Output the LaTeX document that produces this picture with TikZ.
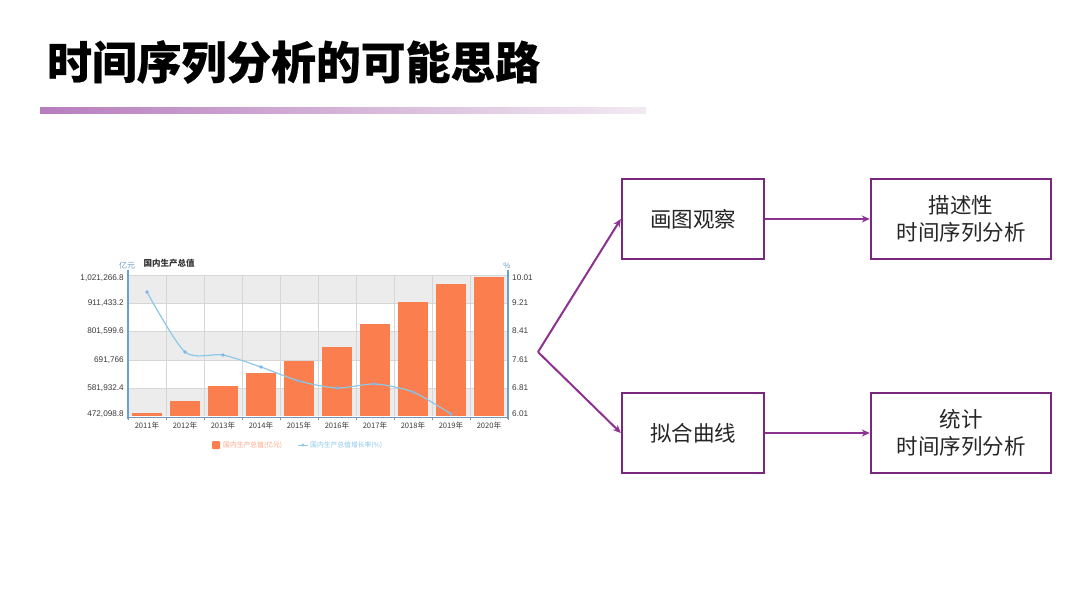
\documentclass[tikz,border=0pt]{standalone}
\usepackage{fontspec}
\setmainfont{Liberation Sans}
\newfontfamily\cjk{Noto Sans CJK SC}
\newfontfamily\cjktitle{Noto Sans CJK SC}[BoldFeatures={FakeBold=0.5}]
\usetikzlibrary{arrows.meta}
\definecolor{boxc}{RGB}{122,40,126}
\definecolor{arrc}{RGB}{140,50,145}
\definecolor{barc}{RGB}{250,126,78}
\definecolor{linec}{RGB}{140,200,232}
\definecolor{axisc}{RGB}{110,160,205}
\definecolor{bandc}{RGB}{236,236,236}
\definecolor{gridc}{RGB}{214,214,214}
\definecolor{gradl}{RGB}{183,125,190}
\definecolor{gradr}{RGB}{242,234,242}
\definecolor{tickc}{RGB}{60,60,60}
\tikzset{
  flowbox/.style={draw=boxc, line width=2.4pt, minimum width=142pt, minimum height=80pt, inner sep=0pt, font=\cjk\fontsize{21.5}{26.5}\selectfont, align=center, text=black!85},
  widebox/.style={flowbox, minimum width=180pt},
  flowarr/.style={draw=arrc, line width=2pt, -{Stealth[length=8pt,width=7pt]}},
  ylab/.style={font=\fontsize{8.2}{9}\selectfont, text=tickc, inner sep=0pt},
  xlab/.style={font=\cjk\fontsize{7.6}{8}\selectfont, text=tickc, inner sep=0pt},
}
\begin{document}
\begin{tikzpicture}[x=1pt,y=-1pt]
\useasboundingbox (0,0) rectangle (1080,608);
\fill[white] (0,0) rectangle (1080,608);
% title
\node[anchor=west, inner sep=0pt, font=\cjktitle\bfseries\fontsize{44.8}{50}\selectfont] (title) at (47,62) {时间序列分析的可能思路};
\shade[left color=gradl, right color=gradr] (40,107) rectangle (646,113);
% chart bands
\fill[bandc] (128,275) rectangle (508,303);
\fill[bandc] (128,331) rectangle (508,360);
\fill[bandc] (128,388) rectangle (508,416);
\foreach \i in {1,...,9} \draw[gridc, line width=0.5pt] (128+38*\i,275) -- (128+38*\i,416);
\foreach \y in {275,303,331,360,388} \draw[gridc, line width=0.4pt] (128,\y) -- (508,\y);
% bars
\foreach \c/\t in {0/413,1/401,2/386,3/373,4/361,5/347,6/324,7/302,8/284,9/277}
  \fill[barc] (132+38*\c,\t) rectangle (162+38*\c,416);
% axes
\draw[axisc, line width=1.3pt] (128,270) -- (128,419);
\draw[axisc, line width=1.3pt] (508,270) -- (508,419);
\draw[axisc!70!gray, line width=0.8pt] (128,417) -- (508,417);
\foreach \i in {0,...,10} \draw[axisc!70!gray, line width=0.6pt] (128+38*\i,417) -- (128+38*\i,420);
% growth line
\draw[linec, line width=1.2pt] plot[smooth, tension=0.45] coordinates {(147,292) (185,352) (223,355) (261,367) (299,381) (337,388) (375,384) (413,392) (451,414)};
\foreach \p in {(147,292),(185,352),(223,355),(261,367),(299,381),(337,388),(375,384),(413,392),(451,414)}
  \fill[linec!90!blue] \p circle (1.8pt);
% y labels
\foreach \y/\t in {278/{1,021,266.8},303/{911,433.2},331/{801,599.6},360/{691,766},388/{581,932.4},414/{472,098.8}}
  \node[ylab, anchor=east] at (124,\y) {\t};
\foreach \y/\t in {278/10.01,303/9.21,331/8.41,360/7.61,388/6.81,414/6.01}
  \node[ylab, anchor=west] at (512,\y) {\t};
\foreach \c in {0,...,9} {
  \pgfmathtruncatemacro{\yr}{2011+\c}
  \node[xlab] at (147+38*\c,426) {\yr 年};
}
\node[font=\cjk\fontsize{8}{9}\selectfont, text=axisc, inner sep=0pt] (yunit) at (127,265) {亿元};
\node[font=\cjk\bfseries\fontsize{8.5}{9}\selectfont, text=black!80, inner sep=0pt] (ctitle) at (169,263) {国内生产总值};
\node[font=\fontsize{8}{9}\selectfont, text=axisc, inner sep=0pt] (punit) at (507,266) {\%};
% legend
\fill[barc, rounded corners=1pt] (212,441) rectangle (220,449);
\node[anchor=west, font=\cjk\fontsize{6.8}{8}\selectfont, text=barc!70, inner sep=0pt] (leg1) at (223,445) {国内生产总值(亿元)};
\draw[linec, line width=1pt] (298,445) -- (308,445);
\fill[linec] (303,445) circle (1.6pt);
\node[anchor=west, font=\cjk\fontsize{6.8}{8}\selectfont, text=linec, inner sep=0pt] (leg2) at (310,445) {国内生产总值增长率(\%)};
% flow
\coordinate (split) at (538,352);
\node[flowbox] (draw) at (693,219) {画图观察};
\node[flowbox] (fit) at (693,433) {拟合曲线};
\node[widebox] (desc) at (961,219) {描述性\\时间序列分析};
\node[widebox] (stat) at (961,433) {统计\\时间序列分析};
\draw[flowarr] (split) -- (draw.west);
\draw[flowarr] (split) -- (fit.west);
\draw[flowarr] (draw.east) -- (desc.west);
\draw[flowarr] (fit.east) -- (stat.west);
\end{tikzpicture}
\end{document}
